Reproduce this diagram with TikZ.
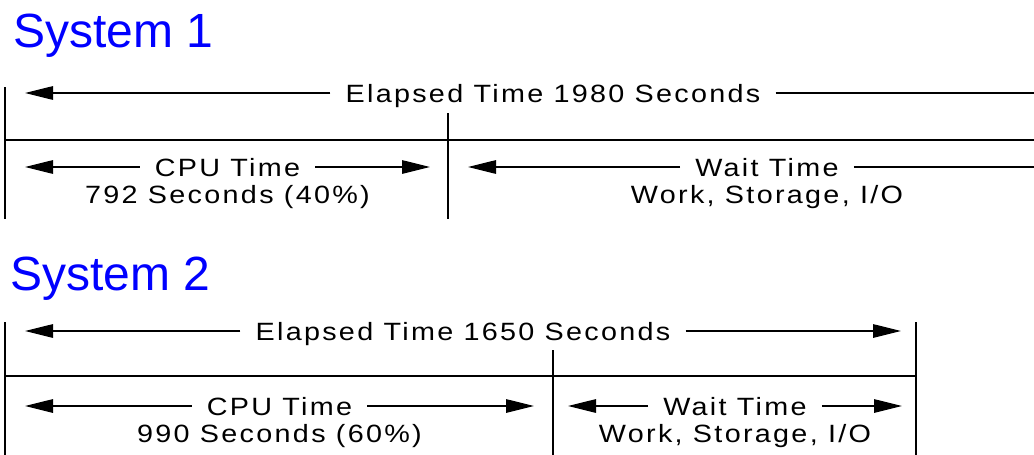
\documentclass[tikz,border=0pt]{standalone}
\usepackage{fontspec}
\setmainfont{Liberation Sans}
\newfontfamily\dimfont[LetterSpace=8]{Liberation Sans}
\usetikzlibrary{arrows.meta}
\definecolor{titleblue}{RGB}{0,0,255}
\begin{document}
\begin{tikzpicture}[x=1pt,y=-1pt,
  systitle/.style={anchor=base west, inner sep=0pt, text=titleblue,
    font=\fontsize{48}{54}\selectfont},
  dimtext/.style={inner ysep=0pt, inner xsep=13pt, text height=18pt, text depth=0pt,
    font=\dimfont\fontsize{25}{30}\selectfont, xscale=1.15},
  subtext/.style={dimtext, inner xsep=0pt},
  rule/.style={line width=1.3pt, line cap=rect},
  dimline/.style={line width=1.3pt},
  tipped/.style={dimline, -{Triangle[length=28pt,width=13.5pt]}},
]
\useasboundingbox (0,0) rectangle (1034,455);

% ---------------- System 1 ----------------
\node[systitle] (title1) at (13,47) {System 1};

% frame
\coordinate (f1tl) at (5,88);   \coordinate (f1bl) at (5,218);
\coordinate (f1ml) at (5,140);  \coordinate (f1mr) at (1034,140);
\coordinate (d1t) at (448,114); \coordinate (d1b) at (448,218);
\draw[rule] (f1tl) -- (f1bl);
\draw[rule] (f1ml) -- (f1mr);
\draw[rule] (d1t) -- (d1b);

% elapsed time
\node[dimtext] (el1) at (553,93) {Elapsed Time 1980 Seconds};
\coordinate (el1L) at (25,93);
\coordinate (el1R) at (1034,93);
\draw[tipped] (el1.west) -- (el1L);
\draw[dimline] (el1.east) -- (el1R);

% cpu time
\node[dimtext] (cpu1) at (227.5,167) {CPU Time};
\node[subtext] (cpu1sub) at ([yshift=-27.5pt]cpu1.center) {792 Seconds (40\%)};
\coordinate (cpu1L) at (25,167);
\coordinate (cpu1R) at (430,167);
\draw[tipped] (cpu1.west) -- (cpu1L);
\draw[tipped] (cpu1.east) -- (cpu1R);

% wait time
\node[dimtext] (wt1) at (767,167) {Wait Time};
\node[subtext] (wt1sub) at ([yshift=-27.5pt]wt1.center) {Work, Storage, I/O};
\coordinate (wt1L) at (468,167);
\coordinate (wt1R) at (1034,167);
\draw[tipped] (wt1.west) -- (wt1L);
\draw[dimline] (wt1.east) -- (wt1R);

% ---------------- System 2 ----------------
\node[systitle] (title2) at (10,290) {System 2};

% frame
\coordinate (f2tl) at (5,323);   \coordinate (f2bl) at (5,455);
\coordinate (f2tr) at (916,323); \coordinate (f2br) at (916,455);
\coordinate (f2ml) at (5,376);   \coordinate (f2mr) at (916,376);
\coordinate (d2t) at (553,351);  \coordinate (d2b) at (553,455);
\draw[rule] (f2tl) -- (f2bl);
\draw[rule] (f2tr) -- (f2br);
\draw[rule] (f2ml) -- (f2mr);
\draw[rule] (d2t) -- (d2b);

% elapsed time
\node[dimtext] (el2) at (463,331) {Elapsed Time 1650 Seconds};
\coordinate (el2L) at (25,331);
\coordinate (el2R) at (901,331);
\draw[tipped] (el2.west) -- (el2L);
\draw[tipped] (el2.east) -- (el2R);

% cpu time
\node[dimtext] (cpu2) at (279.5,406) {CPU Time};
\node[subtext] (cpu2sub) at ([yshift=-27.5pt]cpu2.center) {990 Seconds (60\%)};
\coordinate (cpu2L) at (25,406);
\coordinate (cpu2R) at (534,406);
\draw[tipped] (cpu2.west) -- (cpu2L);
\draw[tipped] (cpu2.east) -- (cpu2R);

% wait time
\node[dimtext] (wt2) at (735,406) {Wait Time};
\node[subtext] (wt2sub) at ([yshift=-27.5pt]wt2.center) {Work, Storage, I/O};
\coordinate (wt2L) at (568,406);
\coordinate (wt2R) at (902,406);
\draw[tipped] (wt2.west) -- (wt2L);
\draw[tipped] (wt2.east) -- (wt2R);
\end{tikzpicture}
\end{document}
